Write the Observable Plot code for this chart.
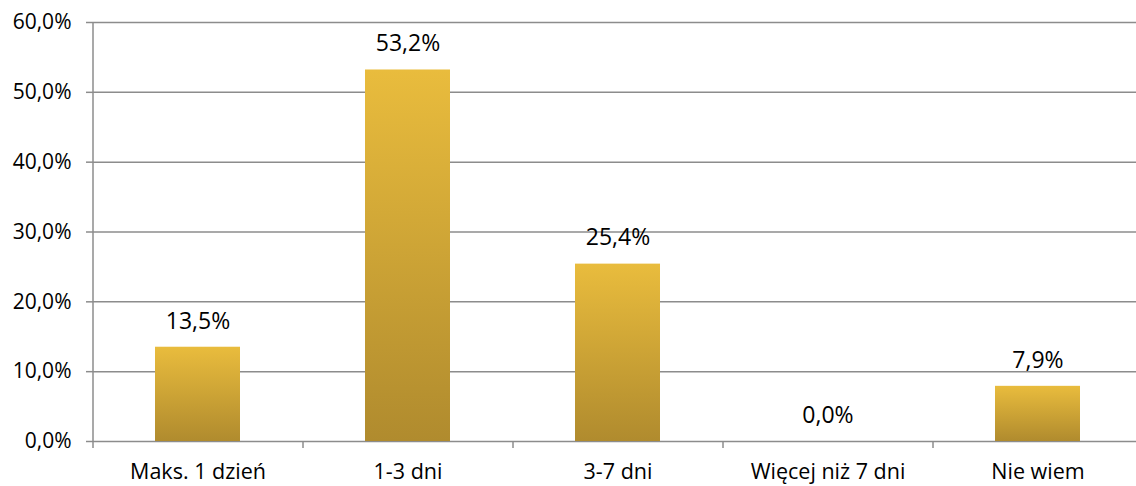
<!DOCTYPE html>
<html>
<head>
<meta charset="utf-8">
<script src="https://cdn.jsdelivr.net/npm/d3@7"></script>
<script src="https://cdn.jsdelivr.net/npm/@observablehq/plot@0.6"></script>
<style>
  html, body { margin: 0; padding: 0; background: #fff; }
  #chart svg { display: block; }
</style>
</head>
<body>
<div id="chart"></div>
<script>
const categories = ["Maks. 1 dzień", "1-3 dni", "3-7 dni", "Więcej niż 7 dni", "Nie wiem"];
const values = [0.135, 0.532, 0.254, 0.0, 0.079];
const yTicks = [0, 0.1, 0.2, 0.3, 0.4, 0.5, 0.6];

const data = categories.map((c, i) => ({category: c, value: values[i]}));
const fmt = d => (d * 100).toFixed(1).replace(".", ",") + "%";

const xRange = [93, 1143];
const step = (xRange[1] - xRange[0]) / categories.length;

const plot = Plot.plot({
  width: 1136,
  height: 486,
  marginLeft: 93,
  marginRight: 0,
  marginTop: 22,
  marginBottom: 45,
  style: {fontFamily: "'Open Sans', sans-serif", fontSize: "21px", color: "#000", background: "#fff"},
  x: {domain: categories, range: xRange, paddingInner: 0.595, paddingOuter: 0.2975, align: 0.5, label: null},
  y: {domain: [0, 0.6], label: null},
  marks: [
    Plot.gridY(yTicks, {stroke: "#8c8c8c", strokeOpacity: 1, strokeWidth: 1.5}),
    Plot.axisY(yTicks, {tickFormat: fmt, tickSize: 7, tickPadding: 15, stroke: "#8c8c8c", strokeWidth: 1.5, fill: "#000", fontSize: 21, label: null}),
    Plot.ruleX([0], {x: () => categories[0], dx: -step / 2, y1: 0, y2: 0.6, stroke: "#8c8c8c", strokeWidth: 1.5}),
    Plot.ruleX(categories, {x: d => d, dx: -step / 2, y1: 0, y2: -0.01, stroke: "#8c8c8c", strokeWidth: 1.5}),
    Plot.barY(data, {x: "category", y: "value", fill: "url(#barGrad)", filter: d => d.value > 0, style: {filter: "url(#barShadow)"}}),
    Plot.text(data, {x: "category", y: "value", text: d => fmt(d.value), dy: -26, fill: "#000", fontSize: 23}),
    Plot.axisX({tickSize: 0, tickPadding: 22, fill: "#000", fontSize: 21.5, label: null})
  ]
});

const svg = d3.select(plot);
const defs = svg.insert("defs", ":first-child");
const g = defs.append("linearGradient").attr("id", "barGrad")
  .attr("x1", 0).attr("y1", 0).attr("x2", 0).attr("y2", 1);
g.append("stop").attr("offset", "0%").attr("stop-color", "#E9BC3D");
g.append("stop").attr("offset", "100%").attr("stop-color", "#B08B2E");
const f = defs.append("filter").attr("id", "barShadow")
  .attr("x", "-10%").attr("y", "-10%").attr("width", "130%").attr("height", "130%");
f.append("feDropShadow").attr("dx", 2).attr("dy", 2).attr("stdDeviation", 2)
  .attr("flood-color", "#000").attr("flood-opacity", 0.25);

document.getElementById("chart").appendChild(plot);
</script>
</body>
</html>
